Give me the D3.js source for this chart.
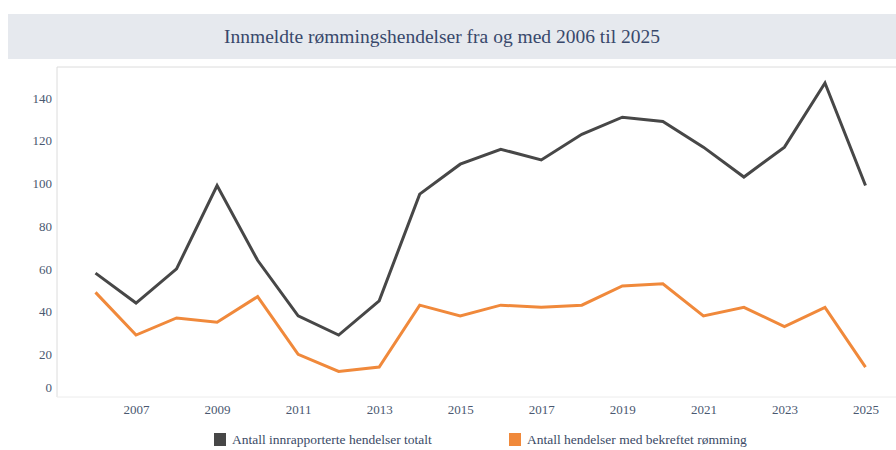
<!DOCTYPE html>
<html>
<head>
<meta charset="utf-8">
<script src="https://cdn.jsdelivr.net/npm/d3@7"></script>
<style>
  body { margin: 0; background: #fff; }
  svg { display: block; font-family: "Liberation Serif", "DejaVu Serif", serif; }
</style>
</head>
<body>
<div id="chart"></div>
<script>
// data
var years = [2006, 2007, 2008, 2009, 2010, 2011, 2012, 2013, 2014, 2015,
             2016, 2017, 2018, 2019, 2020, 2021, 2022, 2023, 2024, 2025];
var totalt = [58, 44, 60, 99, 64, 38, 29, 45, 95, 109,
              116, 111, 123, 131, 129, 117, 103, 117, 147, 99];
var bekreftet = [49, 29, 37, 35, 47, 20, 12, 14, 43, 38,
                 43, 42, 43, 52, 53, 38, 42, 33, 42, 14];
var yTicks = [0, 20, 40, 60, 80, 100, 120, 140];
var xTicks = [2007, 2009, 2011, 2013, 2015, 2017, 2019, 2021, 2023, 2025];
var seriesNames = ["Antall innrapporterte hendelser totalt", "Antall hendelser med bekreftet rømming"];
var seriesColors = ["#474747", "#f0893b"];

var W = 896, H = 450;
var plot = { left: 57, top: 67, right: 900, bottom: 397 };

var svg = d3.select("#chart").append("svg")
  .attr("width", W)
  .attr("height", H);

// title banner
svg.append("rect")
  .attr("x", 8).attr("y", 14)
  .attr("width", W - 8).attr("height", 45)
  .attr("fill", "#e6e9ee");

svg.append("text")
  .attr("x", 442).attr("y", 43)
  .attr("text-anchor", "middle")
  .attr("font-size", 19.5)
  .attr("fill", "#38486b")
  .text("Innmeldte rømmingshendelser fra og med 2006 til 2025");

// plot frame
svg.append("path")
  .attr("d", "M" + plot.left + "," + plot.bottom + "V" + plot.top + "H" + plot.right)
  .attr("fill", "none")
  .attr("stroke", "#dcdcdc");
svg.append("line")
  .attr("x1", plot.left).attr("x2", plot.right)
  .attr("y1", plot.bottom).attr("y2", plot.bottom)
  .attr("stroke", "#ececec");

var x = d3.scaleLinear()
  .domain([2006, 2025])
  .range([95.5, 865.5]);

var y = d3.scaleLinear()
  .domain([0, 140])
  .range([plot.bottom, 98]);

var yAxis = svg.append("g")
  .attr("transform", "translate(" + plot.left + ",0)")
  .call(d3.axisLeft(y).tickValues(yTicks).tickSize(0).tickPadding(5));
yAxis.select(".domain").remove();
yAxis.attr("font-family", null);
yAxis.selectAll("text")
  .attr("font-size", 13)
  .attr("fill", "#4a5870")
  .attr("dy", function(d) { return d === 0 ? "-0.45em" : "0.32em"; });

var xAxis = svg.append("g")
  .attr("transform", "translate(0," + plot.bottom + ")")
  .call(d3.axisBottom(x).tickValues(xTicks).tickFormat(d3.format("d")).tickSize(0).tickPadding(8));
xAxis.select(".domain").remove();
xAxis.attr("font-family", null);
xAxis.selectAll("text")
  .attr("font-size", 13)
  .attr("fill", "#4a5870");

var line = d3.line()
  .x(function(d) { return x(d[0]); })
  .y(function(d) { return y(d[1]); });

[totalt, bekreftet].forEach(function(vals, i) {
  svg.append("path")
    .datum(years.map(function(yr, j) { return [yr, vals[j]]; }))
    .attr("fill", "none")
    .attr("stroke", seriesColors[i])
    .attr("stroke-width", 3)
    .attr("stroke-linejoin", "miter")
    .attr("d", line);
});

// legend
var legendX = [214, 509];
var legend = svg.selectAll(".legend").data(seriesNames).enter()
  .append("g")
  .attr("class", "legend")
  .attr("transform", function(d, i) { return "translate(" + legendX[i] + ",433)"; });
legend.append("rect")
  .attr("width", 12).attr("height", 13)
  .attr("fill", function(d, i) { return seriesColors[i]; });
legend.append("text")
  .attr("x", 18).attr("y", 11)
  .attr("font-size", 13.5)
  .attr("fill", "#3b4a66")
  .text(function(d) { return d; });
</script>
</body>
</html>
